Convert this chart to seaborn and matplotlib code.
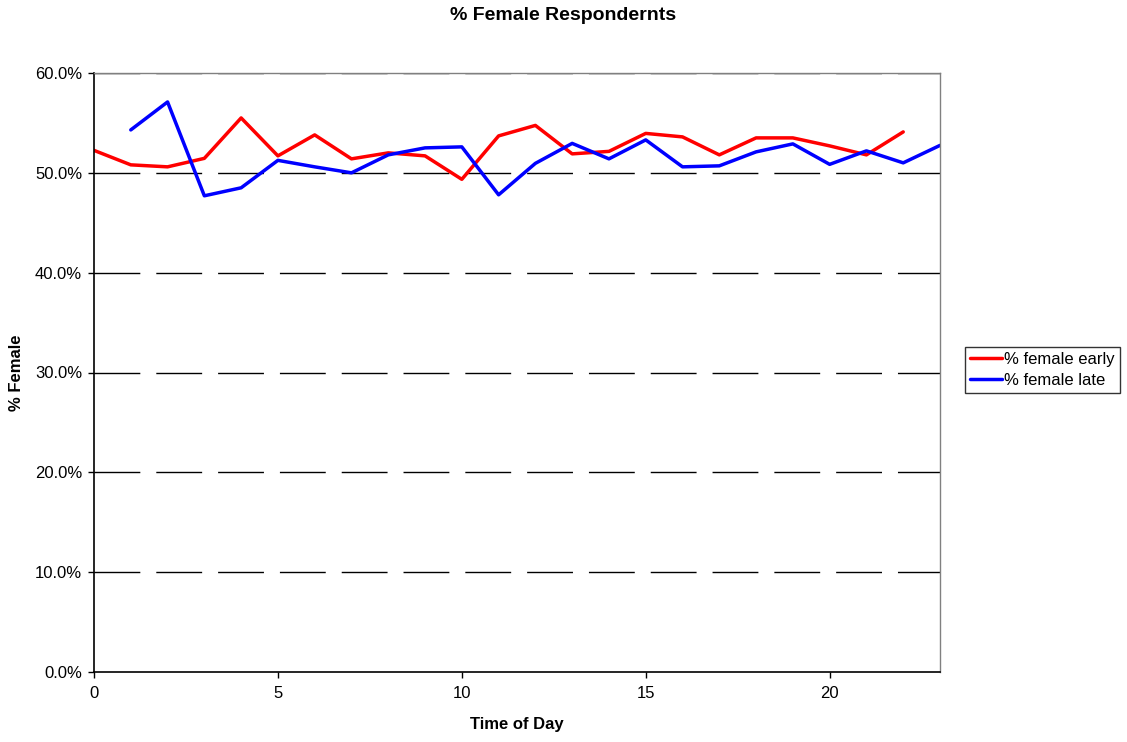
import matplotlib
matplotlib.use("Agg")
import matplotlib.pyplot as plt
import seaborn as sns
import pandas as pd
import numpy as np
from matplotlib.ticker import FuncFormatter, MultipleLocator

hours_early = list(range(0, 23))
female_early = [52.25, 50.8, 50.6, 51.45, 55.5, 51.7, 53.8, 51.4, 52.0, 51.7, 49.35, 53.7,
                54.75, 51.9, 52.15, 53.95, 53.6, 51.8, 53.5, 53.5, 52.7, 51.8, 54.1]
hours_late = list(range(1, 24))
female_late = [54.3, 57.1, 47.7, 48.5, 51.25, 50.6, 50.0, 51.8, 52.5, 52.6, 47.8,
               50.95, 52.95, 51.4, 53.3, 50.6, 50.7, 52.1, 52.9, 50.85, 52.2, 51.0, 52.75]

df = pd.concat([
    pd.DataFrame({"hour": hours_early, "pct": female_early, "series": "% female early"}),
    pd.DataFrame({"hour": hours_late, "pct": female_late, "series": "% female late"}),
])

sns.set_style("white")
plt.rcParams["font.family"] = ["Liberation Sans", "DejaVu Sans"]
plt.rcParams["text.color"] = "black"
plt.rcParams["axes.labelcolor"] = "black"

fig = plt.figure(figsize=(11.27, 7.42), dpi=100)
ax = fig.add_axes([94/1127, 1 - 672/742, (940-94)/1127, (672-73)/742])

sns.lineplot(data=df, x="hour", y="pct", hue="series",
             palette={"% female early": "#ff0000", "% female late": "#0000ff"},
             linewidth=2.5, ax=ax, legend=True)

ax.set_xlim(0, 23)
ax.set_ylim(0, 60)
ax.xaxis.set_major_locator(MultipleLocator(5))
ax.yaxis.set_major_locator(MultipleLocator(10))
ax.yaxis.set_major_formatter(FuncFormatter(lambda v, p: f"{v:.1f}%"))
for yv in range(10, 61, 10):
    ax.axhline(yv, color="black", linestyle=(0, (33, 11.5)), linewidth=1.0, zorder=0)

ax.tick_params(axis="both", which="major", direction="out", length=4, width=1,
               labelsize=12, colors="black", bottom=True, left=True, top=False, right=False)
ax.tick_params(axis="x", pad=6)
ax.tick_params(axis="y", pad=4.5)
for s in ["left", "bottom"]:
    ax.spines[s].set_color("black")
    ax.spines[s].set_linewidth(1.2)
for s in ["top", "right"]:
    ax.spines[s].set_color("#808080")
    ax.spines[s].set_linewidth(1)

ax.set_xlabel("Time of Day", fontsize=12, fontweight="bold", color="black")
ax.set_ylabel("% Female", fontsize=12, fontweight="bold", color="black")
ax.xaxis.set_label_coords(0.5, -(725 - 672) / 599, transform=ax.transAxes)
ax.yaxis.set_label_coords((17 - 94) / 846, 0.5, transform=ax.transAxes)
ax.xaxis.label.set_va("center")
ax.yaxis.label.set_va("center")
fig.text(0.5, 1 - 16/742, "% Female Respondernts", ha="center", va="center",
         fontsize=14, fontweight="bold", color="black")

leg = ax.legend(loc="upper left", bbox_to_anchor=((965-94)/846, 1 - (347-73)/599),
                borderaxespad=0, frameon=True,
                fancybox=False, edgecolor="black", fontsize=12, handlelength=1.9,
                handletextpad=0.15, borderpad=0.3, labelspacing=0.35)
leg.get_frame().set_linewidth(1)
for t in leg.get_texts():
    t.set_color("black")
for l in leg.get_lines():
    l.set_linewidth(2.5)

fig.savefig("out.png", dpi=100)
